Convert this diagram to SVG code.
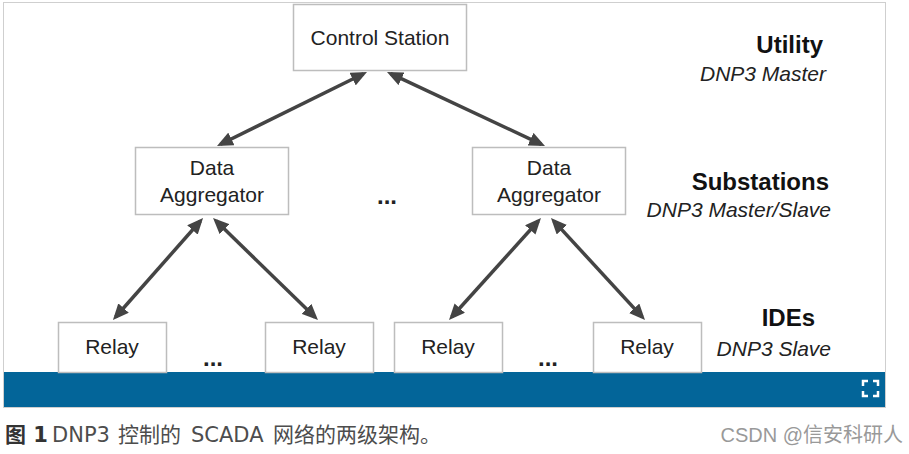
<svg xmlns="http://www.w3.org/2000/svg" width="909" height="454" viewBox="0 0 909 454">
<style>
.box{fill:#fff;stroke:#bdbdbd;stroke-width:1.5}
.lbl{font-family:"Liberation Sans",Arial,sans-serif;font-size:21px;fill:#222;text-anchor:middle}
.head{font-family:"Liberation Sans",Arial,sans-serif;font-size:24px;font-weight:bold;fill:#111;text-anchor:end}
.sub{font-family:"Liberation Sans",Arial,sans-serif;font-size:21px;font-style:italic;fill:#222;text-anchor:end}
.dots{font-family:"Liberation Sans",Arial,sans-serif;font-size:24px;font-weight:bold;fill:#222;text-anchor:middle}
.conn{stroke:#444;stroke-width:3.5;fill:none;marker-start:url(#ah);marker-end:url(#ah)}
</style>
<defs>
<marker id="ah" viewBox="0 0 16 14" refX="12" refY="7" markerWidth="16" markerHeight="14" markerUnits="userSpaceOnUse" orient="auto-start-reverse">
<path d="M0,0 L16,7 L0,14 z" fill="#444"/>
</marker>
</defs>
<rect x="0" y="0" width="909" height="454" fill="#fff"/>
<rect x="3.5" y="2.5" width="882" height="405" fill="#fff" stroke="#cfcfcf" stroke-width="1"/>
<rect x="4" y="372" width="881" height="35" fill="#036599"/>
<g id="expand-icon" fill="none" stroke="#fff" stroke-width="2.5">
<path d="M863,386 V381 H868 M873,381 H878 V386 M878,391 V396 H873 M868,396 H863 V391"/>
</g>
<g id="connectors">
<line class="conn" x1="220.6" y1="144.2" x2="363.4" y2="73.8"/>
<line class="conn" x1="541.4" y1="144.3" x2="390.6" y2="73.7"/>
<line class="conn" x1="200.4" y1="221" x2="115.6" y2="317"/>
<line class="conn" x1="215.9" y1="220.8" x2="315.1" y2="317.2"/>
<line class="conn" x1="538.3" y1="221" x2="451.7" y2="317"/>
<line class="conn" x1="553.7" y1="220.9" x2="642.3" y2="317.1"/>
</g>
<g id="control-station">
<rect class="box" x="293.5" y="4.5" width="173" height="66"/>
<text class="lbl" x="380" y="45">Control Station</text>
</g>
<g id="aggregator-left">
<rect class="box" x="135.5" y="147.5" width="153" height="67"/>
<text class="lbl" x="212" y="175">Data</text>
<text class="lbl" x="212" y="202">Aggregator</text>
</g>
<g id="aggregator-right">
<rect class="box" x="472.5" y="147.5" width="153" height="67"/>
<text class="lbl" x="549" y="175">Data</text>
<text class="lbl" x="549" y="202">Aggregator</text>
</g>
<g id="relay-1">
<rect class="box" x="58.5" y="322.5" width="108" height="50"/>
<text class="lbl" x="112" y="354">Relay</text>
</g>
<g id="relay-2">
<rect class="box" x="265.5" y="322.5" width="108" height="50"/>
<text class="lbl" x="319" y="354">Relay</text>
</g>
<g id="relay-3">
<rect class="box" x="394.5" y="322.5" width="108" height="50"/>
<text class="lbl" x="448" y="354">Relay</text>
</g>
<g id="relay-4">
<rect class="box" x="593.5" y="322.5" width="108" height="50"/>
<text class="lbl" x="647" y="354">Relay</text>
</g>
<g id="ellipses">
<text class="dots" x="387" y="204">...</text>
<text class="dots" x="213" y="366">...</text>
<text class="dots" x="548" y="366">...</text>
</g>
<g id="level-labels">
<text class="head" x="823" y="53">Utility</text>
<text class="sub" x="826" y="81">DNP3 Master</text>
<text class="head" x="829" y="190">Substations</text>
<text class="sub" x="831" y="217">DNP3 Master/Slave</text>
<text class="head" x="815" y="326">IDEs</text>
<text class="sub" x="831" y="356">DNP3 Slave</text>
</g>
<g id="caption">
<text y="442" font-family="'DejaVu Sans','Noto Sans CJK SC',sans-serif" font-size="21" fill="#4d4d4d"><tspan x="5" font-weight="bold" fill="#333">图 1</tspan><tspan x="52">DNP3</tspan><tspan x="118">控制的</tspan><tspan x="191">SCADA</tspan><tspan x="273">网络的两级架构。</tspan></text>
<text x="903" y="442" text-anchor="end" font-family="'Liberation Sans','Noto Sans CJK SC',sans-serif" font-size="20" fill="#999">CSDN @信安科研人</text>
</g>
</svg>
